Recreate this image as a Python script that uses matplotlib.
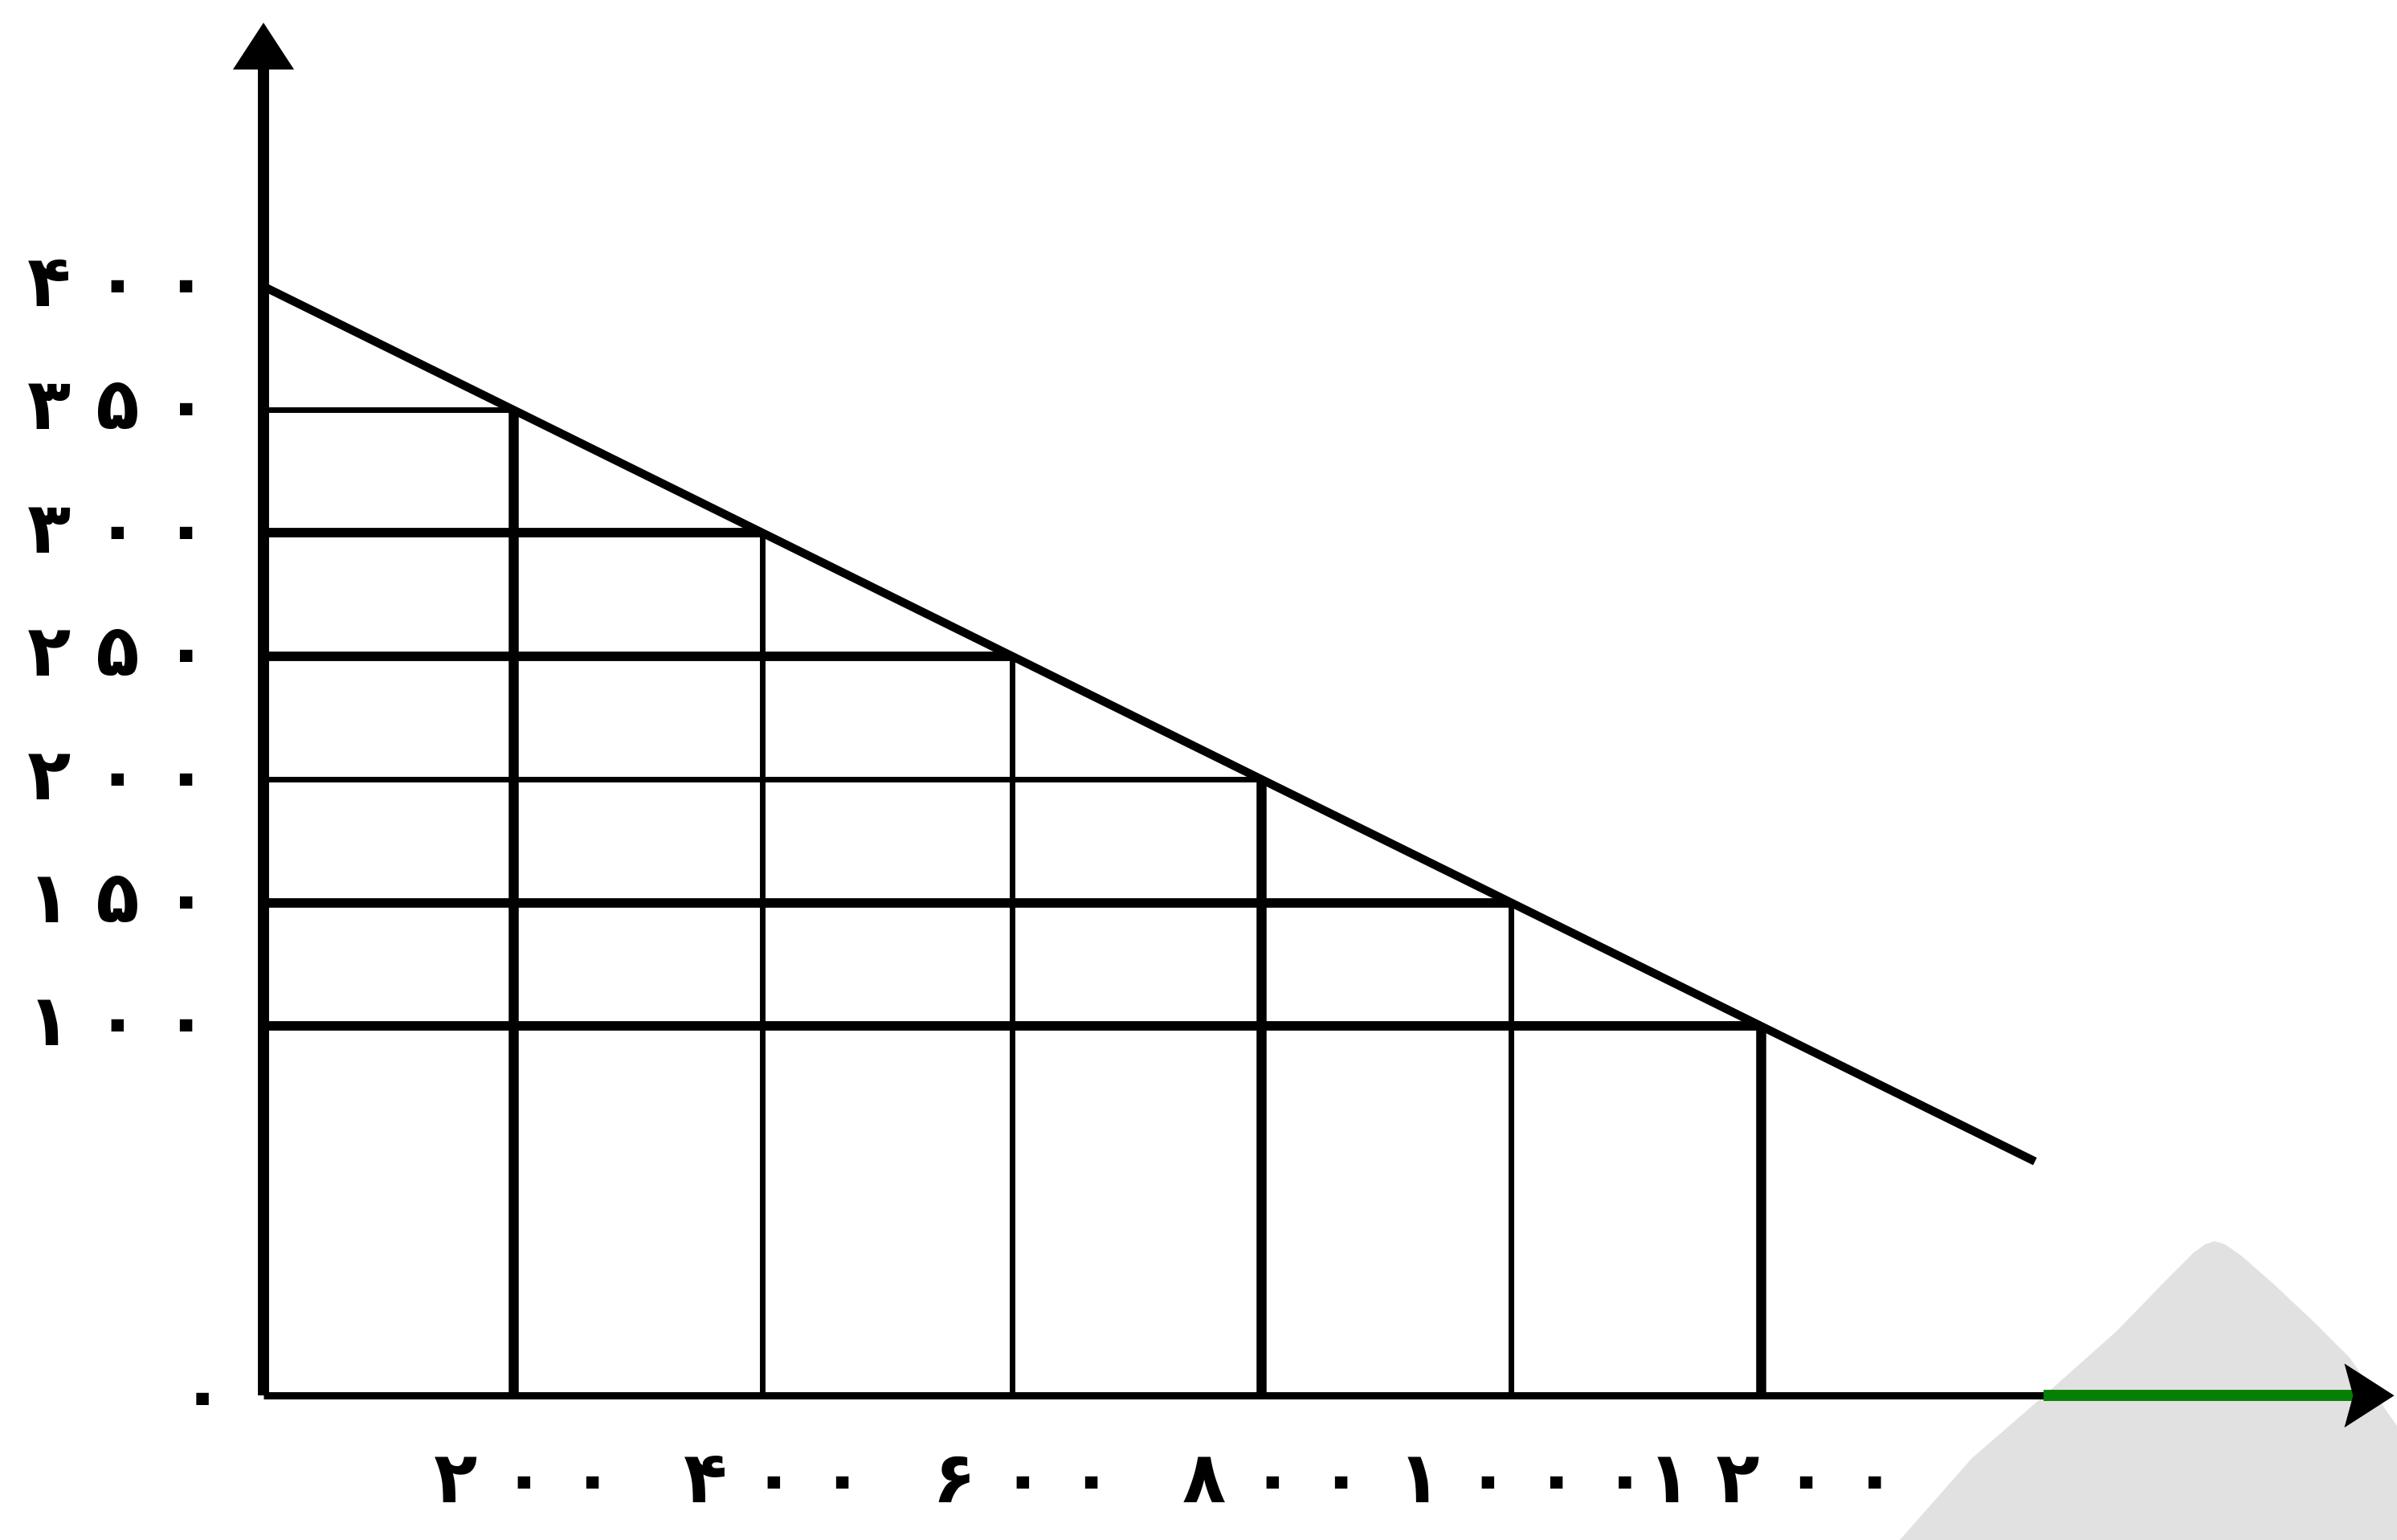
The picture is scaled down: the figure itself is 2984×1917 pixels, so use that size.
import matplotlib.pyplot as plt
from matplotlib.patches import Polygon

# price / quantity steps under the demand line
quantities = [200, 400, 600, 800, 1000, 1200]
prices = [350, 300, 250, 200, 150, 100]
demand_q = [0, 1420]
demand_p = [400, 45]

y_ticks = [400, 350, 300, 250, 200, 150, 100]
y_labels = ["۴ ۰ ۰", "۳ ۵ ۰", "۳ ۰ ۰", "۲ ۵ ۰", "۲ ۰ ۰", "۱ ۵ ۰", "۱ ۰ ۰"]
x_labels = ["۲ ۰ ۰", "۴ ۰ ۰", "۶ ۰ ۰", "۸ ۰ ۰", "۱ ۰ ۰ ۰", "۱ ۲ ۰ ۰"]
origin_label = "۰"

# which step lines are drawn heavy in the original
h_heavy = [False, True, True, False, True, True]
v_heavy = [True, False, False, True, False, True]

W, H = 2984, 1917
plt.rcParams["font.family"] = ["DejaVu Sans"]
fig = plt.figure(figsize=(W / 100, H / 100), dpi=100)
ax = fig.add_axes([0, 0, 1, 1])
ax.set_xlim(-211.2, 1710.2)
ax.set_ylim(-108.6, 516.2)
ax.axis("off")
y_floor = -50  # axis origin sits below 100 (broken scale)

# grey page corner in the lower right
corner = [(2365, 1917), (2455, 1815), (2545, 1737), (2635, 1657), (2700, 1590),
          (2730, 1560), (2745, 1549), (2757, 1545), (2770, 1549), (2790, 1563),
          (2830, 1598), (2880, 1645), (2925, 1690), (2984, 1775), (2984, 1917)]
ax.add_patch(Polygon([(x / W, 1 - y / H) for x, y in corner],
                     closed=True, transform=fig.transFigure, clip_on=False,
                     facecolor="#e1e1e1", edgecolor="none", zorder=0))

# step grid
for q, p, heavy in zip(quantities, prices, h_heavy):
    ax.plot([0, q], [p, p], color="black", lw=8.5 if heavy else 5,
            solid_capstyle="butt", zorder=2)
for q, p, heavy in zip(quantities, prices, v_heavy):
    ax.plot([q, q], [y_floor, p], color="black", lw=9 if heavy else 5,
            solid_capstyle="butt", zorder=2)

# demand line
ax.plot(demand_q, demand_p, color="black", lw=7.5, solid_capstyle="butt", zorder=3)

# axes with arrows
ax.plot([0, 0], [y_floor, 490], color="black", lw=10, solid_capstyle="butt", zorder=4)
ax.add_patch(Polygon([(0, 507), (-24.5, 488), (24.5, 488)], closed=True,
                     facecolor="black", edgecolor="none", zorder=4))
ax.plot([0, 1427], [y_floor, y_floor], color="black", lw=6.5, solid_capstyle="butt", zorder=4)
ax.plot([1427, 1685], [y_floor, y_floor], color="#067f06", lw=10,
        solid_capstyle="butt", zorder=4)
ax.add_patch(Polygon([(1708, y_floor), (1668, y_floor + 13), (1675, y_floor),
                      (1668, y_floor - 13)],
                     closed=True, facecolor="black", edgecolor="none", zorder=5))

# tick labels
label_kw = dict(fontsize=64, fontweight="bold", color="black",
                textcoords="offset points", annotation_clip=False)
for p, lab in zip(y_ticks, y_labels):
    ax.annotate(lab, xy=(0, p), xytext=(-50, 0), ha="right", va="center", **label_kw)
for q, lab in zip(quantities, x_labels):
    ax.annotate(lab, xy=(q, y_floor), xytext=(10, -78), ha="center", va="center", **label_kw)
ax.annotate(origin_label, xy=(0, y_floor), xytext=(-55, -3), ha="center", va="center",
            **label_kw)

fig.savefig("out.png", dpi=100, facecolor="white")
